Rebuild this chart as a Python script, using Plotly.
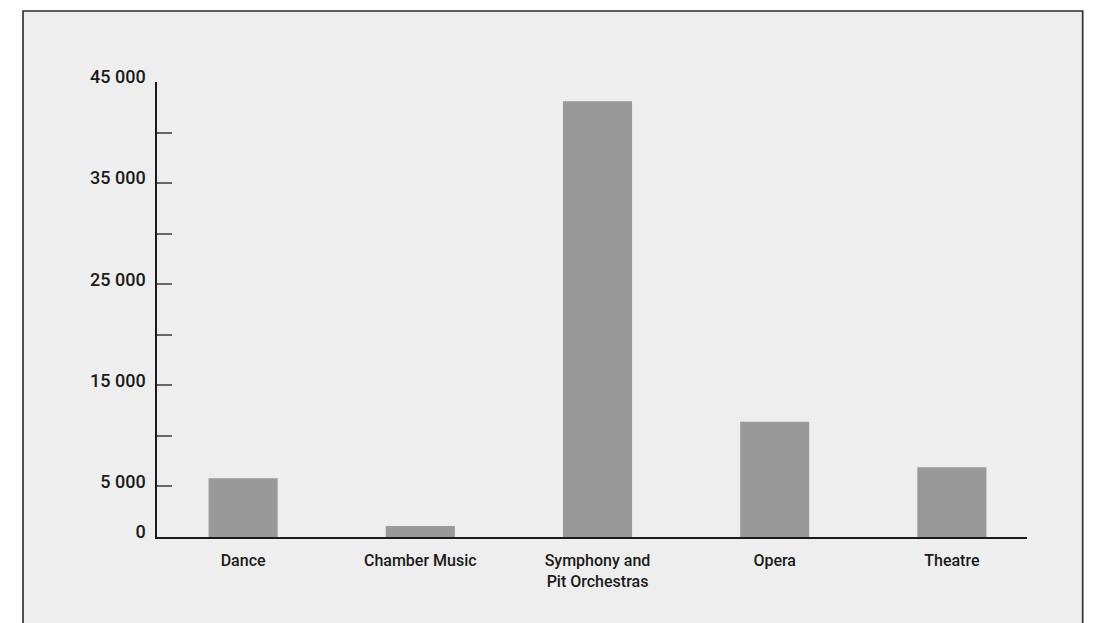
import plotly.graph_objects as go

categories = ["Dance", "Chamber Music", "Symphony and<br>Pit Orchestras", "Opera", "Theatre"]
values = [5800, 1100, 43100, 11400, 6900]
tick_vals = [0, 5000, 10000, 15000, 20000, 25000, 30000, 35000, 40000, 45000]
tick_text = ["0", "5 000", "", "15 000", "", "25 000", "", "35 000", "", "45 000"]

fig = go.Figure()
fig.add_trace(go.Bar(
    x=list(range(len(categories))),
    y=values,
    width=0.39,
    marker=dict(color="#999999", line=dict(width=0)),
    hoverinfo="skip",
))

fig.update_layout(
    width=1086,
    height=615,
    margin=dict(l=149, r=67, t=74, b=86),
    paper_bgcolor="#ffffff",
    plot_bgcolor="rgba(0,0,0,0)",
    showlegend=False,
    font=dict(family="Roboto, sans-serif", color="#1a1a1a"),
    shapes=[
        dict(type="rect", xref="paper", yref="paper",
             x0=-0.154, x1=1.064, y0=-0.25, y1=1.156,
             fillcolor="#eeeeee", line=dict(color="#2a2a2a", width=1.6),
             layer="below"),
    ],
)

fig.update_xaxes(
    range=[-0.486, 4.424],
    tickmode="array",
    tickvals=list(range(len(categories))),
    ticktext=categories,
    showline=True, linecolor="#1a1a1a", linewidth=1.5,
    showgrid=False, zeroline=False, ticks="",
    ticklabelstandoff=8,
    tickfont=dict(size=16, family="Roboto, sans-serif", color="#1a1a1a", weight=500),
)
fig.update_yaxes(
    range=[0, 45000],
    tickmode="array",
    tickvals=tick_vals,
    ticktext=tick_text,
    showline=True, linecolor="#1a1a1a", linewidth=1.5,
    showgrid=False, zeroline=False,
    ticks="inside", ticklen=15, tickwidth=1.5, tickcolor="#666666",
    ticklabelstandoff=6,
    ticklabelshift=-5,
    tickfont=dict(size=18, family="Roboto, sans-serif", color="#1a1a1a", weight=500),
)

fig.write_html("out.html", post_script="document.body.style.overflow='hidden';")
